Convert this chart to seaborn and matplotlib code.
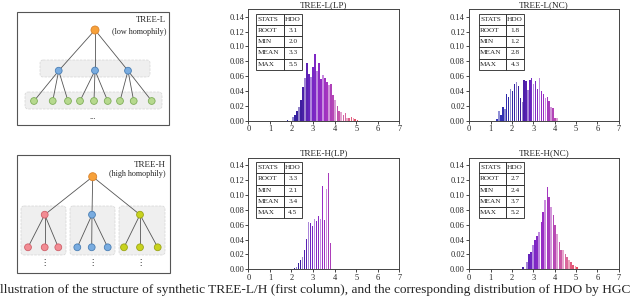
import numpy as np
import pandas as pd
import matplotlib
matplotlib.use("Agg")
import matplotlib.pyplot as plt
import matplotlib.patches as mpatches
from matplotlib.colors import LinearSegmentedColormap, to_rgb
import seaborn as sns

# ---- data ----
tl_x = [1.82, 2.07, 2.16, 2.26, 2.35, 2.44, 2.53, 2.63, 2.72, 2.81, 2.91, 3.00, 3.09, 3.18, 3.28, 3.37, 3.46,
        3.56, 3.65, 3.74, 3.84, 3.93, 4.02, 4.12, 4.21, 4.30, 4.40, 4.49, 4.58, 4.67, 4.77, 4.86, 4.95, 5.05]
tl_y = [0.0015, 0.005, 0.007, 0.013, 0.019, 0.028, 0.045, 0.057, 0.078, 0.063, 0.059, 0.072, 0.090, 0.067, 0.078,
        0.056, 0.062, 0.058, 0.052, 0.048, 0.050, 0.035, 0.028, 0.020, 0.013, 0.012, 0.007, 0.010, 0.003, 0.004,
        0.005, 0.004, 0.002, 0.0015]

tr_x = [1.31, 1.40, 1.49, 1.58, 1.67, 1.76, 1.85, 1.94, 2.03, 2.12, 2.21, 2.30, 2.39, 2.48, 2.57, 2.66, 2.75,
        2.84, 2.93, 3.02, 3.11, 3.20, 3.29, 3.38, 3.47, 3.56, 3.65, 3.74, 3.83, 3.92, 4.01, 4.10]
tr_y = [0.002, 0.013, 0.008, 0.018, 0.016, 0.036, 0.032, 0.042, 0.040, 0.049, 0.052, 0.047, 0.030, 0.025, 0.055,
        0.053, 0.041, 0.055, 0.058, 0.050, 0.054, 0.042, 0.057, 0.040, 0.036, 0.030, 0.032, 0.026, 0.019, 0.017,
        0.004, 0.003]

bl_x = [2.14, 2.23, 2.32, 2.41, 2.51, 2.60, 2.69, 2.79, 2.88, 2.97, 3.07, 3.16, 3.25, 3.34, 3.44, 3.53, 3.62,
        3.72, 3.81]
bl_y = [0.002, 0.003, 0.009, 0.013, 0.017, 0.026, 0.041, 0.063, 0.062, 0.058, 0.067, 0.065, 0.071, 0.067, 0.112,
        0.066, 0.108, 0.130, 0.036]

br_x = [2.52, 2.71, 2.80, 2.90, 2.99, 3.08, 3.18, 3.27, 3.37, 3.46, 3.55, 3.65, 3.74, 3.83, 3.93, 4.02, 4.11,
        4.21, 4.30, 4.39, 4.49, 4.58, 4.67, 4.77, 4.86, 4.96, 5.05]
br_y = [0.003, 0.010, 0.021, 0.023, 0.033, 0.039, 0.045, 0.050, 0.064, 0.077, 0.093, 0.111, 0.097, 0.084, 0.073,
        0.059, 0.048, 0.037, 0.026, 0.026, 0.020, 0.017, 0.012, 0.010, 0.006, 0.004, 0.003]

titles = ["TREE-L(LP)", "TREE-L(NC)", "TREE-H(LP)", "TREE-H(NC)"]
stat_names = ["STATS", "ROOT", "MIN", "MEAN", "MAX"]
stat_vals = [["HDO", "3.1", "2.0", "3.3", "5.5"],
             ["HDO", "1.8", "1.2", "2.8", "4.3"],
             ["HDO", "3.3", "2.1", "3.4", "4.5"],
             ["HDO", "2.7", "2.4", "3.7", "5.2"]]

caption = ("llustration of the structure of synthetic TREE-L/H (first column), "
           "and the corresponding distribution of HDO by HGC")

# ---- style ----
sns.set_theme(style="ticks")
plt.rcParams["font.family"] = ["Liberation Serif", "DejaVu Sans"]
plt.rcParams["axes.edgecolor"] = "#444444"

cmap = LinearSegmentedColormap.from_list(
    "hdo", ["#3436b8", "#2e2aa8", "#3a1c9c", "#7226c4", "#9a2cc4", "#b84ab4", "#dc6a9c", "#e84858"])


def bar_colors(xs):
    cols = []
    for i, x in enumerate(xs):
        c = np.array(to_rgb(cmap((x - 1.3) / 3.8)))
        if i % 3 == 1:
            c = c + (1 - c) * 0.45
        cols.append(tuple(c))
    return cols


fig = plt.figure(figsize=(6.4, 2.98), dpi=100)

# ---- tree illustrations (pixel coordinates of the left column) ----
tree = fig.add_axes([0, 0, 1, 1])
tree.set_xlim(0, 640)
tree.set_ylim(298, 0)
tree.axis("off")

ORANGE = ("#f7a13a", "#d9822b")
BLUE = ("#79ace0", "#4a7fb5")
GREEN = ("#b6d98e", "#7fae5a")
PINK = ("#f28c93", "#d0606a")
LIME = ("#c8d21e", "#9aa515")


def node(x, y, col, r=3.4):
    tree.add_patch(mpatches.Circle((x, y), r, fc=col[0], ec=col[1], lw=0.6, zorder=4))


def edge(p, q):
    tree.plot([p[0], q[0]], [p[1], q[1]], color="#555555", lw=0.6, zorder=3)


def band(x, y, w, h):
    tree.add_patch(mpatches.FancyBboxPatch((x, y), w, h, boxstyle="round,pad=0,rounding_size=3",
                                           fc="#efefef", ec="#d5d5d5", ls="--", lw=0.5, zorder=2))


# TREE-L
tree.add_patch(mpatches.Rectangle((17.3, 12.3), 152, 113, fc="white", ec="#555555", lw=0.8, zorder=1))
band(40, 60, 110, 17)
band(25, 92, 137, 17)
root = (95, 30)
mids = [(58.7, 70.7), (95, 70.5), (128, 70.7)]
leaves = [34, 52.7, 68, 80, 94, 107.7, 120, 133.7, 151.7]
for i, m in enumerate(mids):
    edge(root, m)
    node(*m, BLUE)
    for lx in leaves[3 * i:3 * i + 3]:
        edge(m, (lx, 101))
        node(lx, 101, GREEN)
node(*root, ORANGE, r=4.0)
tree.text(166, 20, "TREE-L", ha="right", va="center", fontsize=6.3)
tree.text(166, 31.5, "(low homophily)", ha="right", va="center", fontsize=5.9)
tree.text(93, 117, "...", ha="center", va="center", fontsize=6)

# TREE-H
tree.add_patch(mpatches.Rectangle((17.3, 155), 152.7, 118.3, fc="white", ec="#555555", lw=0.8, zorder=1))
band(21, 206, 45, 49)
band(70, 206, 45, 49)
band(119, 206, 46, 49)
root = (92.7, 176.7)
mids = [(44.7, 214.7), (92, 214.7), (140, 214.7)]
groups = [[28, 44.7, 58.3], [77.3, 91.7, 107.7], [124, 140, 157.7]]
for m, g, col in zip(mids, groups, [PINK, BLUE, LIME]):
    edge(root, m)
    node(*m, col)
    for lx in g:
        edge(m, (lx, 247.3))
        node(lx, 247.3, col)
    tree.text(m[0], 263, "\u22ee", ha="center", va="center", fontsize=6,
              family=["DejaVu Sans"])
node(*root, ORANGE, r=4.0)
tree.text(166, 165, "TREE-H", ha="right", va="center", fontsize=6.5)
tree.text(166, 174.5, "(high homophily)", ha="right", va="center", fontsize=5.9)

# ---- histograms ----
panels = [(tl_x, tl_y), (tr_x, tr_y), (bl_x, bl_y), (br_x, br_y)]
rects = [[0.388, 0.595, 0.236, 0.374], [0.733, 0.595, 0.234, 0.374],
         [0.388, 0.096, 0.236, 0.375], [0.733, 0.096, 0.234, 0.375]]
table_x = [0.051, 0.063, 0.051, 0.063]

for k, ((xs, ys), rect) in enumerate(zip(panels, rects)):
    ax = fig.add_axes(rect)
    df = pd.DataFrame({"hdo": xs, "freq": ys})
    sns.barplot(data=df, x="hdo", y="freq", native_scale=True, color="#7226c4",
                width=0.7, saturation=1, errorbar=None, ax=ax)
    for patch, col in zip(ax.patches, bar_colors(xs)):
        patch.set_facecolor(col)
        patch.set_edgecolor("none")
    ax.set_xlim(0, 7)
    ax.set_ylim(0, 0.15)
    ax.set_xticks(range(8))
    ax.set_xticklabels([str(i) for i in range(8)])
    ax.set_yticks(np.arange(0, 0.141, 0.02))
    ax.set_yticklabels([f"{v:.2f}" for v in np.arange(0, 0.141, 0.02)])
    ax.set_xlabel("")
    ax.set_ylabel("")
    ax.tick_params(labelsize=6, length=2, width=0.6, pad=1)
    for s in ax.spines.values():
        s.set_linewidth(0.7)
    ax.set_title(titles[k], fontsize=6.6, pad=1.5)

    cells = [[n, v] for n, v in zip(stat_names, stat_vals[k])]
    tb = ax.table(cellText=cells, colWidths=[0.6, 0.4],
                  bbox=[table_x[k], 0.456, 0.305, 0.505])
    tb.auto_set_font_size(False)
    tb.set_fontsize(5.2)
    for (r, c), cell in tb.get_celld().items():
        cell.set_linewidth(0.6)
        cell.set_edgecolor("#222222")
        cell.set_facecolor("white")
        cell.set_text_props(ha="left" if c == 0 else "center")
        if c == 0:
            cell.PAD = 0.06

fig.text(0.0, 0.027, caption, ha="left", va="center", fontsize=9.65)

fig.savefig("out.png", dpi=100)
